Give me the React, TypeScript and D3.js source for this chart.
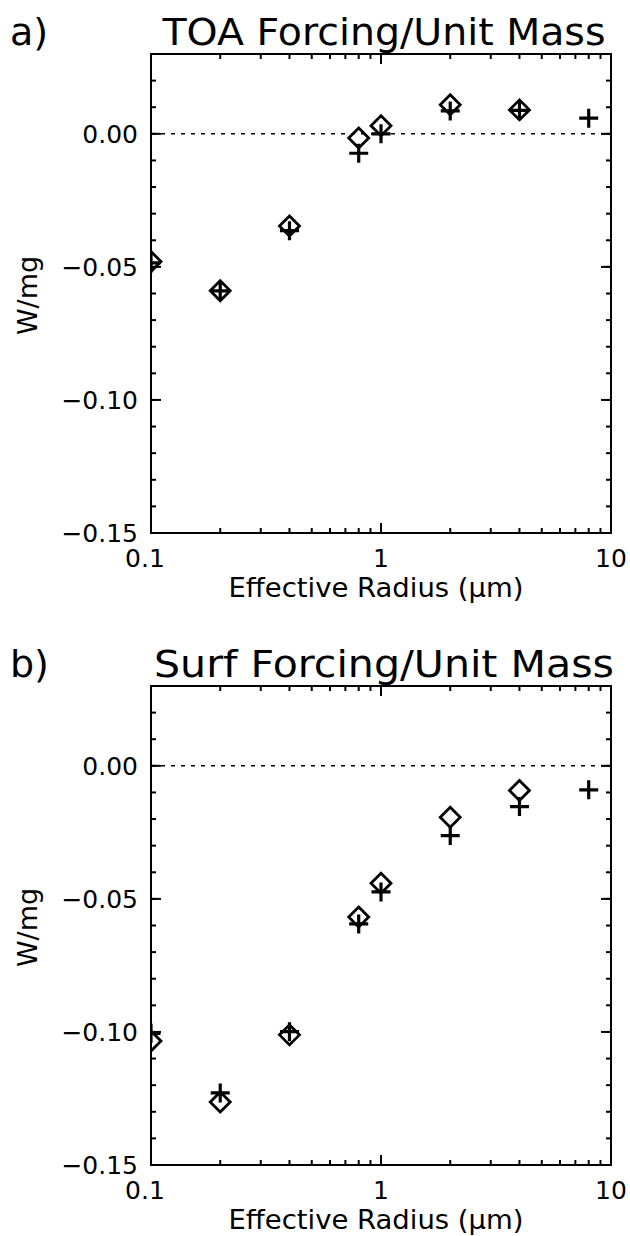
import React from "react";
import * as d3 from "d3";

const radii = [0.1, 0.2, 0.4, 0.8, 1, 2, 4, 8];
const toaDiamond = [-0.048, -0.059, -0.0346, -0.0016, 0.003, 0.0109, 0.009];
const toaPlus = [-0.0485, -0.059, -0.0364, -0.0073, 0.0, 0.0086, 0.0088, 0.0059];
const surfDiamond = [-0.1034, -0.1263, -0.1011, -0.0568, -0.0441, -0.0193, -0.0093];
const surfPlus = [-0.1005, -0.1229, -0.0999, -0.0594, -0.0474, -0.0262, -0.0153, -0.009];

const xMajor = [0.1, 1, 10];
const xMajorLabels = ["0.1", "1", "10"];
const xMinor = [0.2, 0.3, 0.4, 0.5, 0.6, 0.7, 0.8, 0.9, 2, 3, 4, 5, 6, 7, 8, 9];
const yMajor = [-0.15, -0.1, -0.05, 0.0];
const yMinor = d3.range(-15, 4).map((i) => i / 100);

const panels = [
  { letter: "a)", title: "TOA Forcing/Unit Mass", titleLen: 443, diamonds: toaDiamond, pluses: toaPlus, offset: 0 },
  { letter: "b)", title: "Surf Forcing/Unit Mass", titleLen: 460, diamonds: surfDiamond, pluses: surfPlus, offset: 632 },
];

const FONT = "'DejaVu Sans ExtraLight', 'DejaVu Sans', 'Liberation Sans', sans-serif";

function Panel({ p, idx }: { p: any; idx: number }) {
  const L = 151, R = 611, T = 54 + p.offset, B = 533 + p.offset;
  const x = d3.scaleLog().domain([0.1, 10]).range([L, R]);
  const y = d3.scaleLinear().domain([-0.15, 0.03]).range([B, T]);
  const fmt = d3.format(".2f");
  const clipId = `clip${idx}`;
  const dH = 10;
  const pH = 9.5;
  return (
    <g>
      <defs>
        <clipPath id={clipId}>
          <rect x={L} y={T} width={R - L} height={B - T} />
        </clipPath>
      </defs>
      <text x={10} y={45 + p.offset} fontSize={38} fontFamily={FONT}>{p.letter}</text>
      <text x={(L + R) / 2 + 3} y={45 + p.offset} fontSize={38} fontFamily={FONT} textAnchor="middle"
        textLength={p.titleLen} lengthAdjust="spacingAndGlyphs">{p.title}</text>
      <line x1={L} x2={R} y1={y(0)} y2={y(0)} stroke="#000" strokeWidth={1.5} strokeDasharray="4 6" />
      <rect x={L} y={T} width={R - L} height={B - T} fill="none" stroke="#000" strokeWidth={2} />
      {xMajor.map((v) => (
        <g key={"xM" + v}>
          <line x1={x(v)} x2={x(v)} y1={B} y2={B - 10} stroke="#000" strokeWidth={2} />
          <line x1={x(v)} x2={x(v)} y1={T} y2={T + 10} stroke="#000" strokeWidth={2} />
        </g>
      ))}
      {xMinor.map((v) => (
        <g key={"xm" + v}>
          <line x1={x(v)} x2={x(v)} y1={B} y2={B - 5} stroke="#000" strokeWidth={2} />
          <line x1={x(v)} x2={x(v)} y1={T} y2={T + 5} stroke="#000" strokeWidth={2} />
        </g>
      ))}
      {xMajor.map((v, i) => (
        <text key={"xl" + v} x={x(v) - (i === 0 ? 6 : 0)} y={B + 34} fontSize={25} fontFamily={FONT} textAnchor="middle">{xMajorLabels[i]}</text>
      ))}
      <text x={376} y={B + 64} fontSize={26} fontFamily={FONT} textAnchor="middle" textLength={295} lengthAdjust="spacingAndGlyphs">Effective Radius (μm)</text>
      {yMajor.map((v) => (
        <g key={"yM" + v}>
          <line x1={L} x2={L + 10} y1={y(v)} y2={y(v)} stroke="#000" strokeWidth={2} />
          <line x1={R} x2={R - 10} y1={y(v)} y2={y(v)} stroke="#000" strokeWidth={2} />
          <text x={138} y={y(v) + 9} fontSize={25} fontFamily={FONT} textAnchor="end">{fmt(v)}</text>
        </g>
      ))}
      {yMinor.map((v) => (
        <g key={"ym" + v}>
          <line x1={L} x2={L + 5} y1={y(v)} y2={y(v)} stroke="#000" strokeWidth={2} />
          <line x1={R} x2={R - 5} y1={y(v)} y2={y(v)} stroke="#000" strokeWidth={2} />
        </g>
      ))}
      <text transform={`translate(37, ${(T + B) / 2 + 2}) rotate(-90)`} fontSize={27} fontFamily={FONT} textAnchor="middle">W/mg</text>
      <g clipPath={`url(#${clipId})`}>
        {p.diamonds.map((v: number, i: number) => {
          const cx = x(radii[i]), cy = y(v);
          return (
            <path key={"d" + i} d={`M${cx},${cy - dH}L${cx + dH},${cy}L${cx},${cy + dH}L${cx - dH},${cy}Z`}
              fill="none" stroke="#000" strokeWidth={2.8} strokeLinejoin="miter" />
          );
        })}
        {p.pluses.map((v: number, i: number) => {
          const cx = x(radii[i]), cy = y(v);
          return (
            <path key={"p" + i} d={`M${cx - pH},${cy}H${cx + pH}M${cx},${cy - pH}V${cy + pH}`}
              fill="none" stroke="#000" strokeWidth={3.2} />
          );
        })}
      </g>
    </g>
  );
}

export default function App() {
  return (
    <svg width={630} height={1236} style={{ display: "block", position: "absolute", left: 0, top: 0, background: "#fff" }}>
      <rect x={0} y={0} width={630} height={1236} fill="#fff" />
      {panels.map((p, i) => (
        <Panel key={i} p={p} idx={i} />
      ))}
    </svg>
  );
}
